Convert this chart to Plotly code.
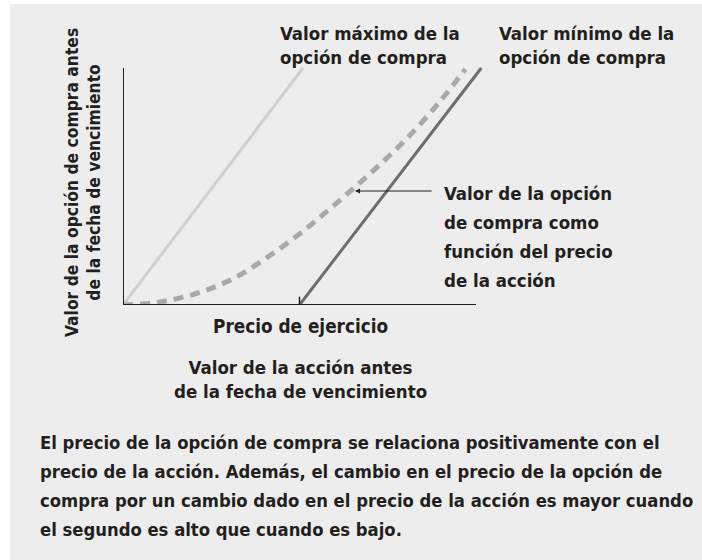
import plotly.graph_objects as go

# valores (unidades arbitrarias, precio de ejercicio = 50)
precio_ejercicio = 50
eje_x_max = 100
eje_y_max = 51

precio_max = [0, 51]
valor_max = [0, 51]

precio_min = [50, 101.5]
valor_min = [0, 51]

precio_curva = [0, 10, 20, 30, 40, 50, 60, 70, 80, 90, 97]
valor_curva = [0, 0.6, 2.3, 5.2, 9.8, 15.3, 21.6, 28.3, 35.5, 44.0, 50.8]

W, H = 702, 560
L, B = 123, 255
FUENTE = "DejaVu Sans Condensed, DejaVu Sans, sans-serif"
TINTA = "#231f20"


def px(x):
    return (x - L) / (W - L)


def py(y):
    return (H - B - y) / (H - B)


fig = go.Figure()

fig.add_trace(go.Scatter(x=precio_max, y=valor_max, mode="lines",
                         line=dict(color="#cfd0d2", width=3), cliponaxis=False))
fig.add_trace(go.Scatter(x=precio_curva, y=valor_curva, mode="lines",
                         line=dict(color="#a7a9ac", width=5, dash="10px,7px", shape="spline"),
                         cliponaxis=False))
fig.add_trace(go.Scatter(x=precio_min, y=valor_min, mode="lines",
                         line=dict(color="#6d6e71", width=3), cliponaxis=False))

# ejes
fig.add_shape(type="line", x0=0, x1=eje_x_max, y0=0, y1=0, line=dict(color=TINTA, width=2))
fig.add_shape(type="line", x0=0, x1=0, y0=0, y1=eje_y_max, line=dict(color=TINTA, width=2))
fig.add_shape(type="line", x0=precio_ejercicio, x1=precio_ejercicio, y0=0, y1=1.8,
              line=dict(color=TINTA, width=1.5))

# fondo gris
fig.add_shape(type="rect", xref="paper", yref="paper", x0=px(10), x1=px(W), y0=py(4), y1=py(H),
              fillcolor="#ededed", line=dict(width=0), layer="below")


def texto(t, x, y, xa="left", ya="middle", align="left", size=18.5, **kw):
    fig.add_annotation(text=t, xref="paper", yref="paper", x=px(x), y=py(y),
                       xanchor=xa, yanchor=ya, align=align, showarrow=False,
                       font=dict(family=FUENTE, size=size, color=TINTA, weight="bold"), **kw)


def lineas(filas, x, y0, paso, **kw):
    for i, t in enumerate(filas):
        texto(t, x, y0 + i * paso, **kw)


texto("Valor máximo de la<br>opción de compra", 278, 45)
texto("Valor mínimo de la<br>opción de compra", 497, 45)
lineas(["Valor de la opción", "de compra como", "función del precio", "de la acción"], 442, 193, 29)
texto("Precio de ejercicio", 300, 326, xa="center", size=18.8)
texto("Valor de la acción antes<br>de la fecha de vencimiento", 300, 379, xa="center", align="center")
texto("Valor de la opción de compra antes<br>de la fecha de vencimiento", 83, 183, xa="center",
      align="center", textangle=-90, size=17.3)
lineas(["El precio de la opción de compra se relaciona positivamente con el",
        "precio de la acción. Además, el cambio en el precio de la opción de",
        "compra por un cambio dado en el precio de la acción es mayor cuando",
        "el segundo es alto que cuando es bajo."], 38, 442, 29.3, size=18.3)

# flecha
fig.add_annotation(x=px(355), y=py(191), xref="paper", yref="paper", text="", showarrow=True,
                   ax=78, ay=0, arrowhead=2, arrowsize=1, arrowwidth=1, arrowcolor=TINTA)

fig.update_xaxes(range=[0, eje_x_max * (W - L) / (476 - L)], visible=False)
fig.update_yaxes(range=[0, eje_y_max * (H - B) / (305 - 68)], visible=False)
fig.update_layout(width=W, height=H, margin=dict(l=L, r=0, t=0, b=B),
                  paper_bgcolor="white", plot_bgcolor="rgba(0,0,0,0)", showlegend=False)

fig.write_html("out.html", config={"displayModeBar": False},
               post_script="document.body.style.margin='0px';")
